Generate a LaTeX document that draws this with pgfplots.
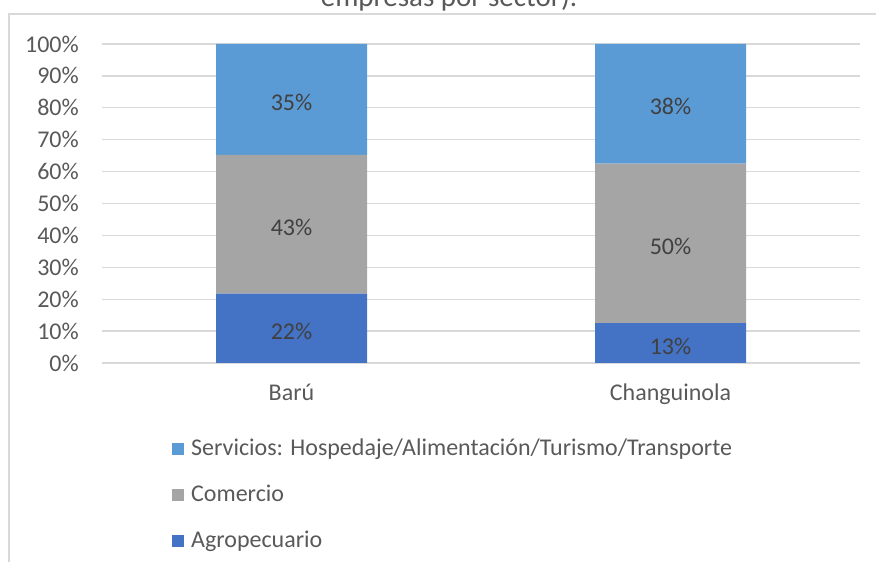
\documentclass[border=0pt]{standalone}
\usepackage{fontspec}
\setmainfont{Carlito}
\usepackage{pgfplots}
\pgfplotsset{compat=1.18}

\definecolor{servicios}{HTML}{5B9BD5}
\definecolor{comercio}{HTML}{A5A5A5}
\definecolor{agro}{HTML}{4472C4}
\definecolor{gridgray}{HTML}{D9D9D9}
\definecolor{labelgray}{HTML}{595959}
\definecolor{datagray}{HTML}{404040}

\begin{document}
\begin{tikzpicture}
% page = 876 x 562, 1pt per pixel
\path[use as bounding box, clip] (0pt,0pt) rectangle (876pt,562pt);

% chart frame (only left and top edges fall inside the picture)
\draw[gridgray, line width=1.5pt] (9pt,-10pt) -- (9pt,548pt) -- (890pt,548pt);

% title, cut off at the top
\node[anchor=base, inner sep=0pt, text=labelgray, font=\fontsize{29}{34}\selectfont]
  at (449pt,555.5pt) {empresas por sector).};

\begin{axis}[
    at={(102pt,199pt)}, anchor=south west,
    scale only axis, width=758pt, height=319pt,
    ybar stacked, bar width=151pt,
    xmin=-0.5, xmax=1.5, ymin=0, ymax=100,
    xtick={0,1}, xticklabels={Barú,Changuinola},
    ytick={0,10,...,100},
    yticklabels={0\%,10\%,20\%,30\%,40\%,50\%,60\%,70\%,80\%,90\%,100\%},
    axis line style={draw=none}, major tick length=0pt,
    ymajorgrids, grid style={gridgray, line width=1.3pt},
    tick label style={font=\fontsize{24}{28}\selectfont, text=labelgray, inner sep=0pt},
    yticklabel style={anchor=east, xshift=-23pt},
    xticklabel style={anchor=north, yshift=-21pt},
    point meta=explicit symbolic,
    nodes near coords={\pgfplotspointmeta},
    every node near coord/.append style={anchor=center, yshift=-3pt,
        font=\fontsize{24}{28}\selectfont, text=datagray},
    reverse legend,
    legend cell align=left,
    legend style={at={(0.0923,-0.235)}, anchor=north west, draw=none, fill=none,
        inner sep=0pt, font=\fontsize{24}{28}\selectfont, text=labelgray,
        row sep=24pt,
        nodes={inner sep=0pt, text height=17pt, text depth=5pt},
        /tikz/every odd column/.append style={column sep=7pt}},
    legend image code/.code={\fill[#1, draw=none] (0pt,-6pt) rectangle (12pt,6pt);},
]
\addplot[fill=agro, draw=none] coordinates {(0,21.74) [22\%] (1,12.5) [13\%]};
\addlegendentry{Agropecuario}
\addplot[fill=comercio, draw=none] coordinates {(0,43.48) [43\%] (1,50) [50\%]};
\addlegendentry{Comercio}
\addplot[fill=servicios, draw=none] coordinates {(0,34.78) [35\%] (1,37.5) [38\%]};
\addlegendentry{Servicios: Hospedaje/Alimentación/Turismo/Transporte}
\end{axis}
\end{tikzpicture}
\end{document}
